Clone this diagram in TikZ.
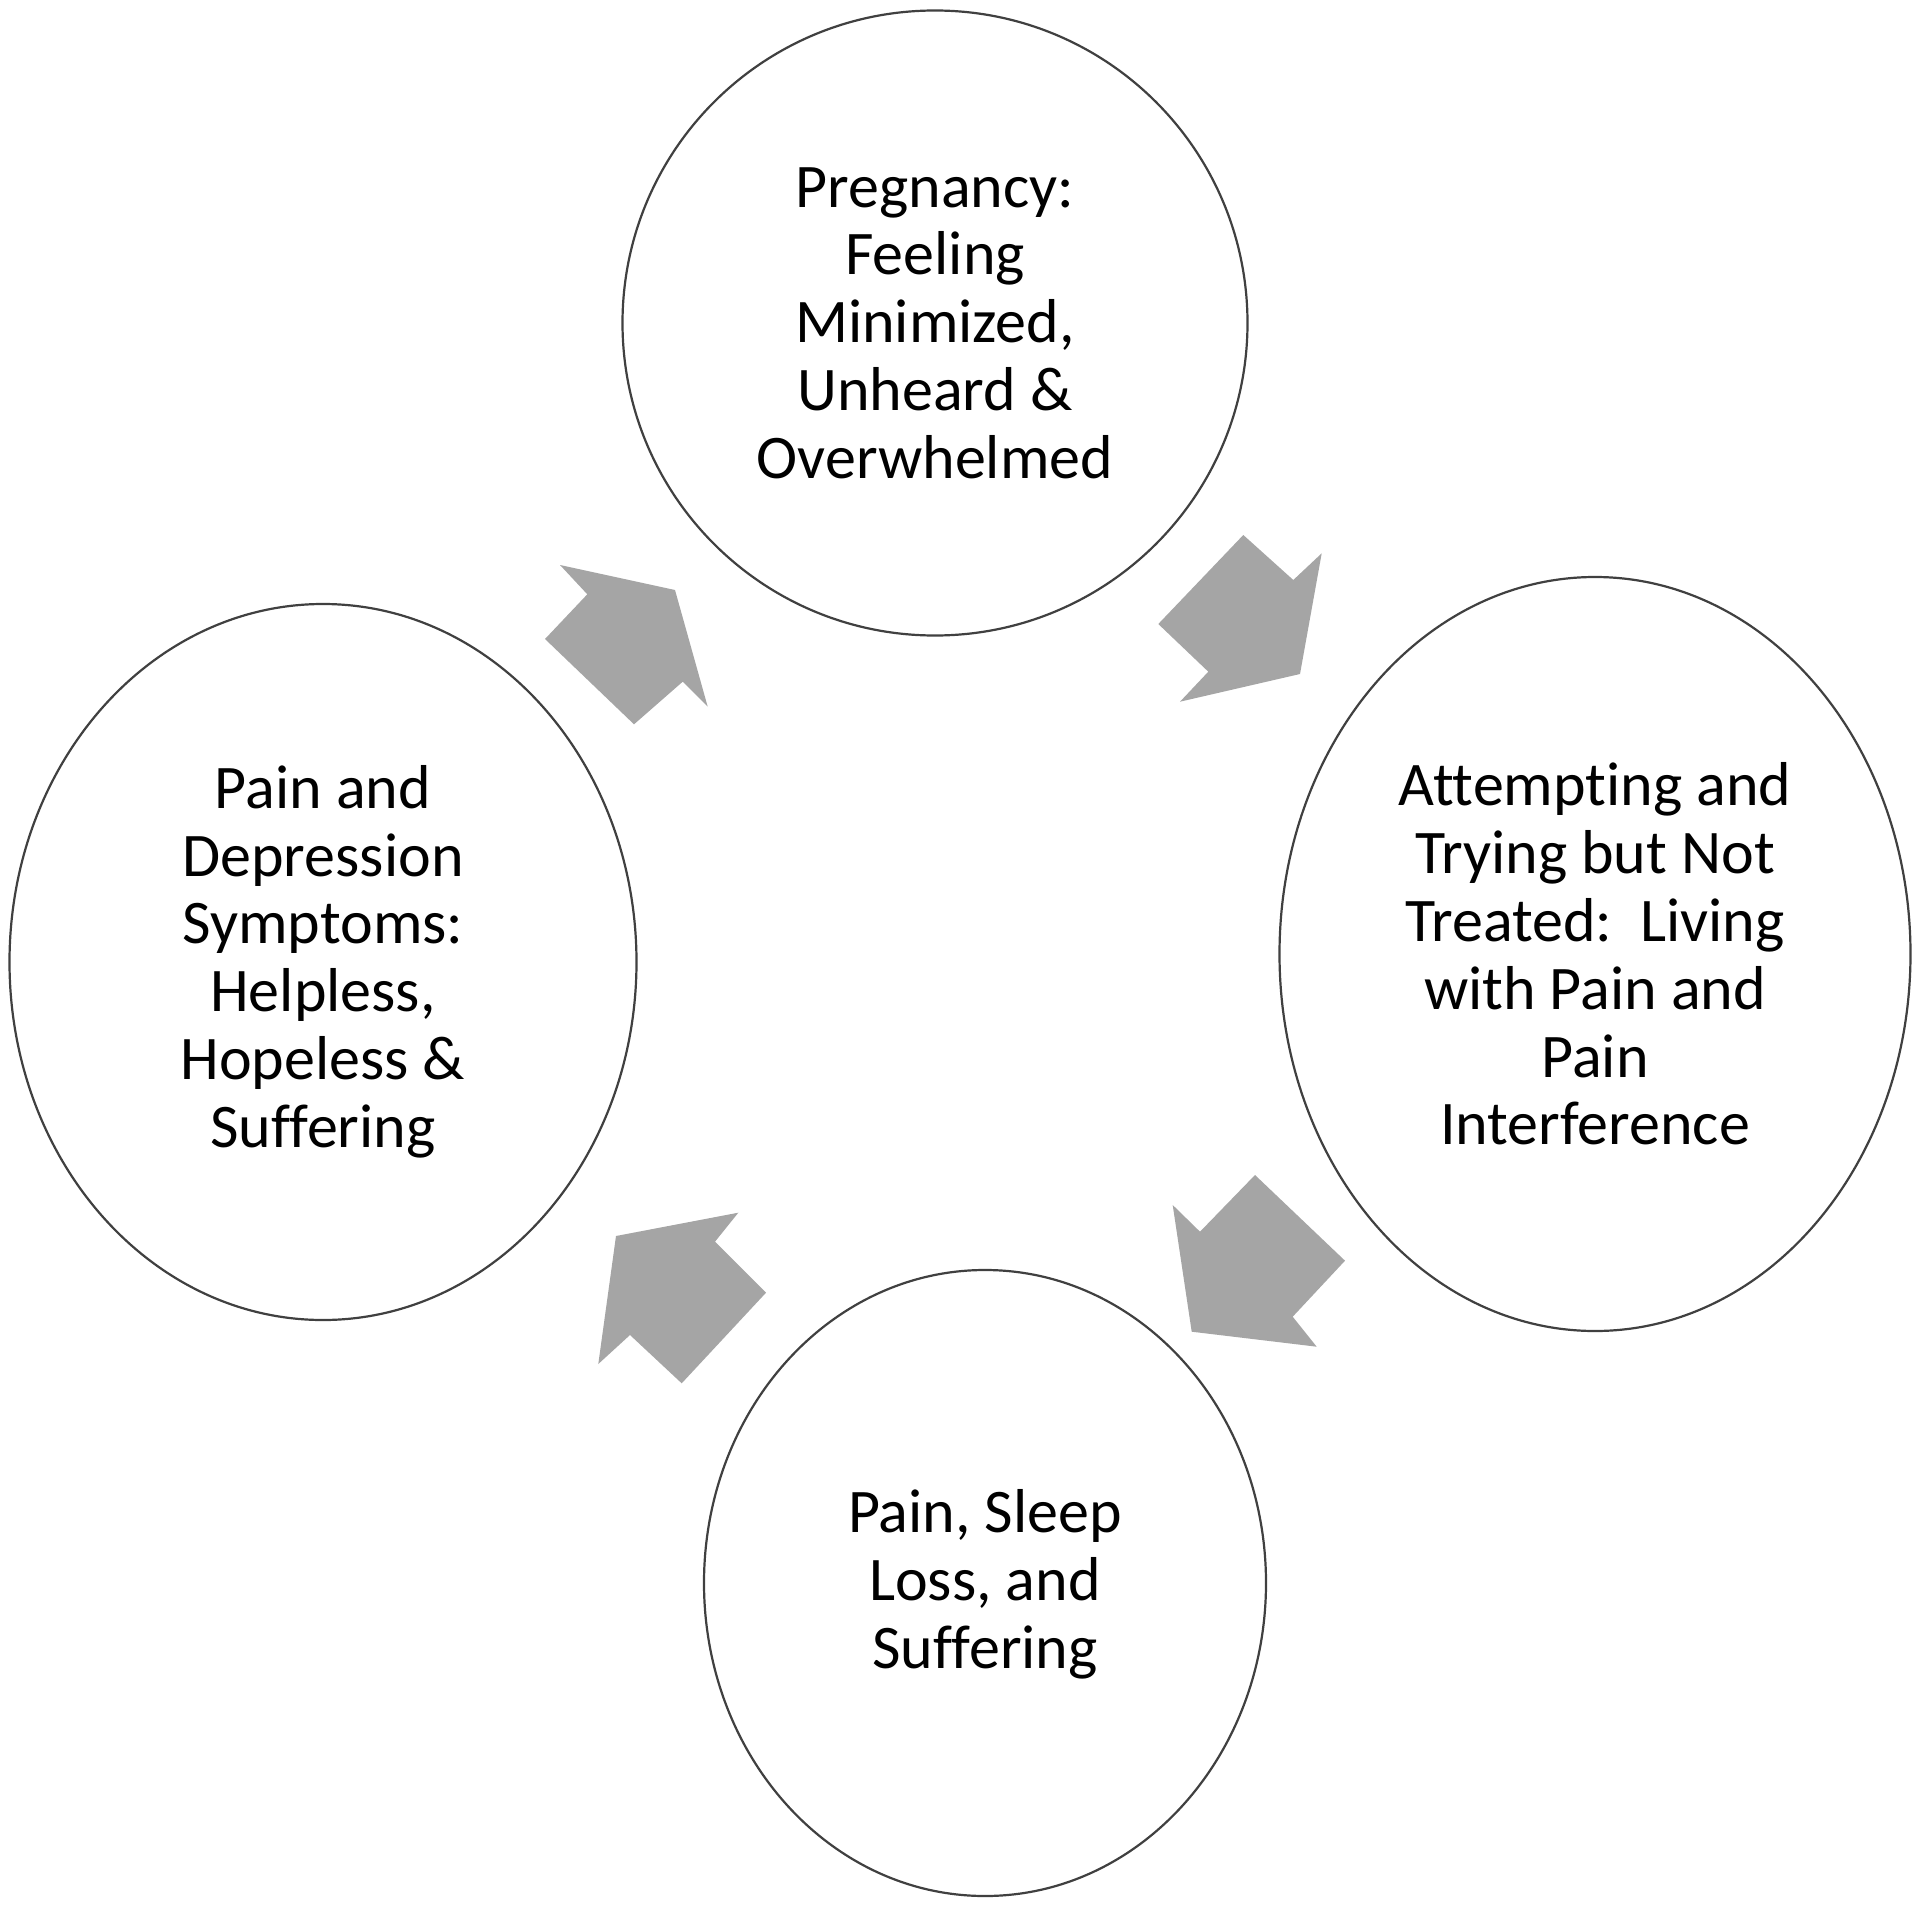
\documentclass[tikz,border=0pt]{standalone}
\usepackage{fontspec}
\setmainfont{Carlito}[Ligatures=CommonOff]
\usetikzlibrary{shapes.geometric}
\definecolor{ringline}{HTML}{404040}
\definecolor{arrowgray}{HTML}{A5A5A5}
\tikzset{
  bubble/.style={ellipse, draw=ringline, line width=2.2pt, fill=white, inner sep=0pt},
  bubbletext/.style={align=center, inner sep=0pt, font=\fontsize{62}{67.8}\selectfont},
  blockarrow/.style={fill=arrowgray, draw=none}
}
\begin{document}
\begin{tikzpicture}[x=1pt,y=-1pt]
\useasboundingbox (0,0) rectangle (1920,1908);
\fill[white] (0,0) rectangle (1920,1908);

% ellipses
\node[bubble, minimum width=625pt, minimum height=625pt] (top) at (935,323) {};
\node[bubble, minimum width=631pt, minimum height=754pt] (right) at (1595,954) {};
\node[bubble, minimum width=562pt, minimum height=626pt] (bottom) at (985,1583) {};
\node[bubble, minimum width=627pt, minimum height=716pt] (left) at (323,962) {};

% texts
\node[bubbletext] (toptext) at (top.center) {Pregnancy:\\Feeling\\Minimized,\\Unheard \&\\Overwhelmed};
\node[bubbletext] (righttext) at (right.center) {Attempting and\\Trying but Not\\Treated:\ \ Living\\with Pain and\\Pain\\Interference};
\node[bubbletext] (bottomtext) at ([yshift=-1pt]bottom.center) {Pain, Sleep\\Loss, and\\Suffering};
\node[bubbletext] (lefttext) at ([yshift=0.5pt]left.center) {Pain and\\Depression\\Symptoms:\\Helpless,\\Hopeless \&\\Suffering};

% block arrows
\fill[blockarrow] (560,565) -- (675,590) -- (707.7,706.7) -- (682.7,681.7) -- (634,724.3) -- (545,639) -- (587.3,594.3) -- cycle;
\fill[blockarrow] (1243.3,535) -- (1293.3,580) -- (1321.7,553.3) -- (1300,674) -- (1180,701.7) -- (1208.3,671.7) -- (1158.3,624) -- cycle;
\fill[blockarrow] (1255,1175) -- (1345,1260.7) -- (1292.7,1316.7) -- (1316.7,1346.7) -- (1191.7,1331.7) -- (1172.7,1205) -- (1200,1231.7) -- cycle;
\fill[blockarrow] (738.3,1212.7) -- (715,1241.7) -- (766,1292.7) -- (681.7,1383.3) -- (630,1335) -- (598.3,1364) -- (616,1236) -- cycle;
\end{tikzpicture}
\end{document}
